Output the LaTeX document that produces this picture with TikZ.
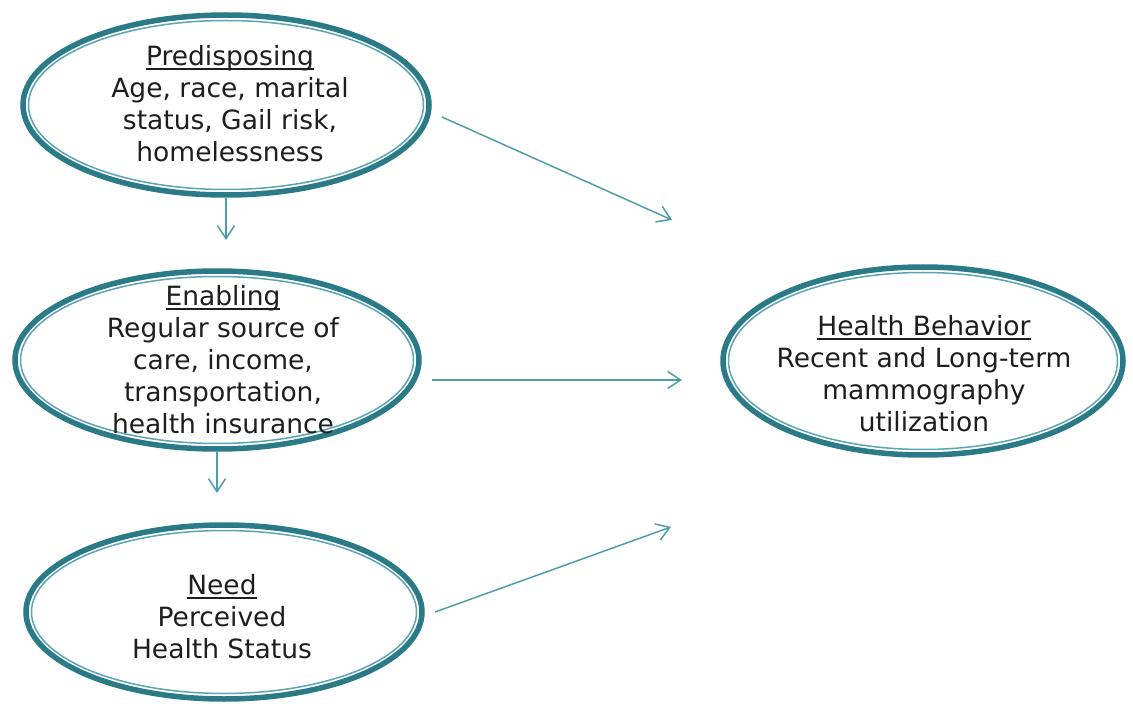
\documentclass[tikz,border=0pt]{standalone}
\usepackage{fontspec}
\setmainfont{DejaVu Sans}
\usetikzlibrary{arrows.meta,shapes.geometric}
\definecolor{ring}{HTML}{2A7A87}
\definecolor{ringin}{HTML}{5AA5B3}
\definecolor{arrowc}{HTML}{4F9DAC}
\definecolor{txt}{HTML}{1E1E1E}
\newcommand{\myul}[1]{\setbox0\hbox{#1}\rlap{\rule[-4pt]{\wd0}{1.6pt}}\box0}
\begin{document}
\begin{tikzpicture}[x=1pt,y=-1pt,
  oval/.style={ellipse, draw=ring, line width=5.5pt, inner sep=0pt, fill=white},
  inring/.style={draw=ringin, line width=1.5pt},
  lbl/.style={align=center, text=txt, inner sep=0pt, font=\fontsize{26.5}{32}\selectfont},
  arr/.style={draw=arrowc, line width=1.5pt, -{Straight Barb[length=13pt,width=17pt,line width=1.5pt]}}]
\useasboundingbox[fill=white] (0,0) rectangle (1133,711);

% ellipses
\node[oval, minimum width=406pt, minimum height=180pt] (P) at (226,105) {};
\node[oval, minimum width=404pt, minimum height=178pt] (E) at (217,360) {};
\node[oval, minimum width=396pt, minimum height=174pt] (N) at (224,612) {};
\node[oval, minimum width=400pt, minimum height=188pt] (H) at (923,361) {};
\foreach \n/\rx/\ry in {P/203/90, E/202/89, N/198/87, H/200/94}
  \draw[inring] (\n.center) ellipse [x radius=\rx-5.5, y radius=\ry-5.5];

% texts
\node[lbl] (Pt) at (230,104) {\myul{Predisposing}\\Age, race, marital\\status, Gail risk,\\homelessness};
\node[lbl] (Et) at (223,360) {\myul{Enabling}\\Regular source of\\care, income,\\transportation,\\health insurance};
\node[lbl] (Nt) at (222,617) {\myul{Need}\\Perceived\\Health Status};
\node[lbl] (Ht) at (924,374) {\myul{Health Behavior}\\Recent and Long-term\\mammography\\utilization};

% free arrow ends
\coordinate (d1) at (226,240);
\coordinate (d2) at (217,493);
\coordinate (s1) at (442,117);
\coordinate (t1) at (672,220);
\coordinate (s2) at (432,380);
\coordinate (t2) at (682,380);
\coordinate (s3) at (435,612);
\coordinate (t3) at (671,527);

% arrows
\draw[arr] (P.south) -- (d1);
\draw[arr] (E.south) -- (d2);
\draw[arr] (s1) -- (t1);
\draw[arr] (s2) -- (t2);
\draw[arr] (s3) -- (t3);
\end{tikzpicture}
\end{document}
